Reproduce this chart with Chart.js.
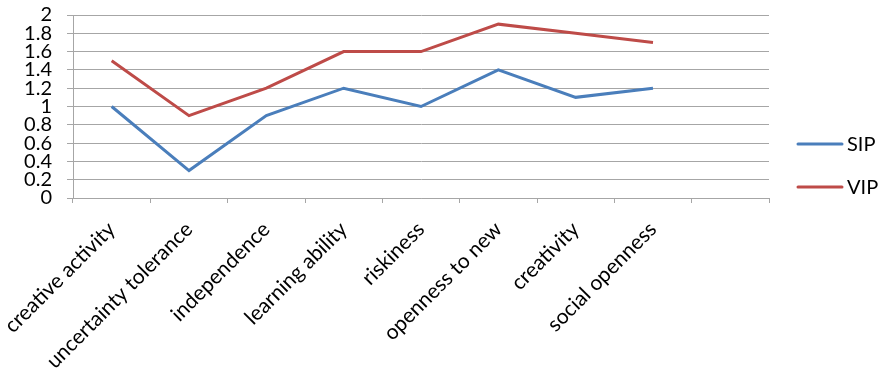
<!DOCTYPE html>
<html>
<head>
<meta charset="utf-8">
<script src="https://cdn.jsdelivr.net/npm/chart.js@4"></script>
<style>
  html, body { margin: 0; padding: 0; background: #fff; }
  #wrap { position: relative; width: 879px; height: 370px; }
</style>
</head>
<body>
<div id="wrap"><canvas id="c" width="879" height="370"></canvas></div>
<script>
const categories = ["creative activity", "uncertainty tolerance", "independence", "learning ability", "riskiness", "openness to new", "creativity", "social openness", ""];
const sipValues = [1.0, 0.3, 0.9, 1.2, 1.0, 1.4, 1.1, 1.2, null];
const vipValues = [1.5, 0.9, 1.2, 1.6, 1.6, 1.9, 1.8, 1.7, null];
const seriesNames = ["SIP", "VIP"];
const yMin = 0, yMax = 2, yStep = 0.2;

const FONT = "Lato, 'Open Sans', sans-serif";
const GRID = "#a6a6a6";

const sideLegend = {
  id: 'sideLegend',
  afterDraw(chart) {
    const ctx = chart.ctx;
    const ys = [144, 187];
    ctx.save();
    chart.data.datasets.forEach((ds, i) => {
      const y = ys[i];
      ctx.strokeStyle = ds.borderColor;
      ctx.lineWidth = 3;
      ctx.lineCap = 'round';
      ctx.beginPath();
      ctx.moveTo(798, y);
      ctx.lineTo(842, y);
      ctx.stroke();
      ctx.fillStyle = '#000';
      ctx.font = "20px " + FONT;
      ctx.textBaseline = 'alphabetic';
      ctx.textAlign = 'left';
      ctx.fillText(ds.label, 847, y + 7);
    });
    ctx.restore();
  }
};

new Chart(document.getElementById('c'), {
  type: 'line',
  data: {
    labels: categories,
    datasets: [
      { label: seriesNames[0], data: sipValues, borderColor: '#4a7ebb', backgroundColor: '#4a7ebb', borderWidth: 3, pointRadius: 0, tension: 0, spanGaps: false },
      { label: seriesNames[1], data: vipValues, borderColor: '#be4b48', backgroundColor: '#be4b48', borderWidth: 3, pointRadius: 0, tension: 0, spanGaps: false }
    ]
  },
  options: {
    responsive: false,
    animation: false,
    devicePixelRatio: 1,
    layout: { padding: { top: 15, right: 110, left: 0, bottom: 0 } },
    plugins: { legend: { display: false }, tooltip: { enabled: false } },
    scales: {
      x: {
        offset: true,
        grid: { offset: true, drawOnChartArea: false, drawTicks: true, tickLength: 5, color: GRID, lineWidth: 1 },
        border: { display: true, color: GRID, width: 1 },
        ticks: { minRotation: 45, maxRotation: 45, autoSkip: false, color: '#000', font: { family: FONT, size: 21 }, padding: 14 },
        afterFit(scale) { scale.height = 172; scale.paddingLeft = 0; scale.paddingRight = 0; }
      },
      y: {
        min: yMin, max: yMax,
        grid: { color: GRID, lineWidth: 1, drawTicks: true, tickLength: 6 },
        border: { display: true, color: GRID, width: 1 },
        ticks: { stepSize: yStep, autoSkip: false, color: '#000', font: { family: FONT, size: 20, lineHeight: 0.9 }, padding: 15,
                 callback: v => String(Math.round(v * 10) / 10) },
        afterFit(scale) { scale.width = 73; scale.paddingTop = 0; scale.paddingBottom = 0; }
      }
    }
  },
  plugins: [sideLegend]
});
</script>
</body>
</html>
